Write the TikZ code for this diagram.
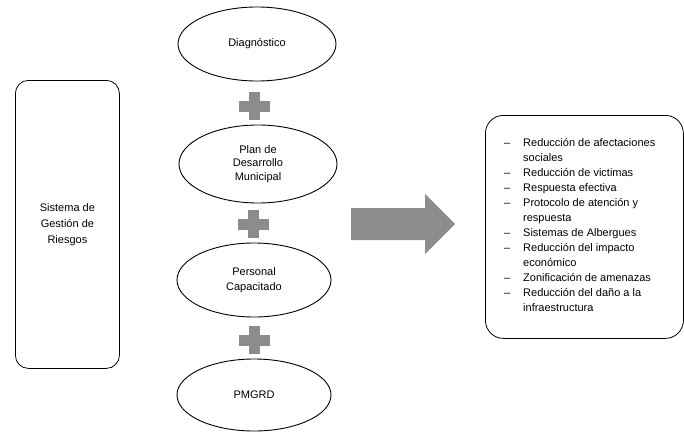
\documentclass[tikz,border=0pt]{standalone}
\usepackage{fontspec}
\setmainfont{Liberation Sans}
\usetikzlibrary{shapes.geometric}
\definecolor{plusgray}{HTML}{8C8C8C}
\begin{document}
\begin{tikzpicture}[x=1pt,y=-1pt,
  oval/.style={draw=black,line width=0.9pt,ellipse,minimum width=158pt,minimum height=74pt,inner sep=0pt,align=center,font=\fontsize{11}{13.5}\selectfont},
  roundbox/.style={draw=black,line width=0.8pt,rounded corners=13pt},
  plusshape/.style={fill=plusgray,draw=none}]
\useasboundingbox (0,0) rectangle (684,431);
% left box
\node[roundbox,minimum width=104pt,minimum height=288pt,anchor=north west,align=center,font=\fontsize{11}{16}\selectfont] (sys) at (15,80) {Sistema de\\Gestión de\\Riesgos};
% ellipses
\node[oval] (diag) at (257,44) {Diagnóstico};
\node[oval,minimum height=78pt] (plan) at (258,164) {Plan de\\Desarrollo\\Municipal};
\node[oval,minimum width=154pt,font=\fontsize{11}{15}\selectfont] (pers) at (254,280) {Personal\\Capacitado};
\node[oval,minimum width=154pt,minimum height=72pt] (pmgrd) at (254,395) {PMGRD};
% plus signs
\foreach \n/\cx/\cy in {p1/254/106,p2/253/224,p3/254/340}{
  \coordinate (\n) at (\cx,\cy);
  \fill[plusshape] (\cx-5.5,\cy-14) rectangle (\cx+5.5,\cy+14);
  \fill[plusshape] (\cx-15.5,\cy-5.5) rectangle (\cx+15.5,\cy+5.5);
}
% big arrow
\coordinate (arrtail) at (351,224);
\coordinate (arrtip) at (455,224);
\fill[plusgray] (arrtail) ++(0,-16) -- ++(74,0) -- ++(0,-14) -- (arrtip) -- ++(-30,30) -- ++(0,-14) -- ++(-74,0) -- cycle;
% right box
\node[roundbox,minimum width=198pt,minimum height=223pt,anchor=north west,rounded corners=18pt] (res) at (485,115) {};
\node[anchor=north west,inner sep=0pt,align=left,font=\fontsize{11}{15}\selectfont] (list) at (504,138) {%
\makebox[19pt][l]{–}Reducción de afectaciones\\
\hspace*{19pt}sociales\\
\makebox[19pt][l]{–}Reducción de victimas\\
\makebox[19pt][l]{–}Respuesta efectiva\\
\makebox[19pt][l]{–}Protocolo de atención y\\
\hspace*{19pt}respuesta\\
\makebox[19pt][l]{–}Sistemas de Albergues\\
\makebox[19pt][l]{–}Reducción del impacto\\
\hspace*{19pt}económico\\
\makebox[19pt][l]{–}Zonificación de amenazas\\
\makebox[19pt][l]{–}Reducción del daño a la\\
\hspace*{19pt}infraestructura};
\end{tikzpicture}
\end{document}
